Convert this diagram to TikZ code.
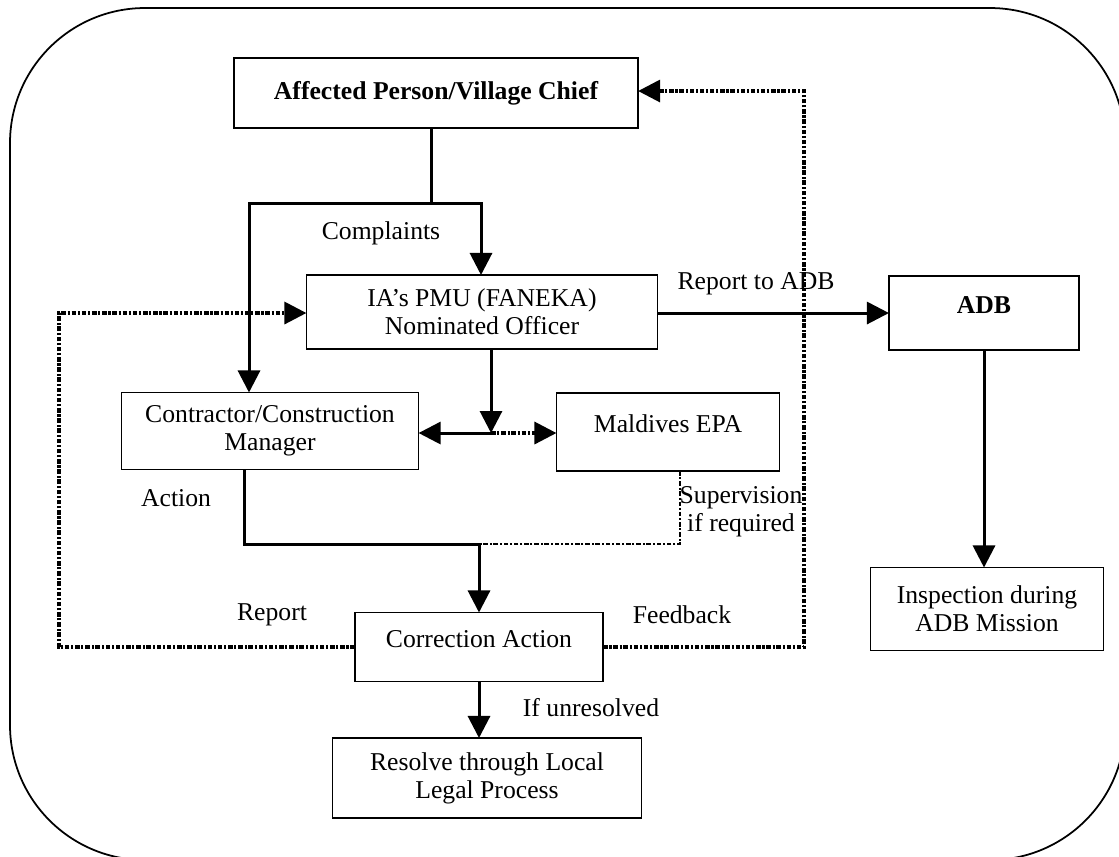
\documentclass[tikz,border=0pt]{standalone}
\usepackage{fontspec}
\setmainfont{Liberation Serif}
\usetikzlibrary{arrows.meta,positioning,calc}

\tikzset{
  box/.style={draw,line width=0.5pt,inner sep=0pt,outer sep=0pt,align=center},
  upbox/.style={box,text height=1ex,text depth=1ex},
  conn/.style={line width=0.85pt,-{Triangle[length=2.2mm,width=2.2mm]}},
  dotline/.style={line width=0.95pt,dash pattern=on 1.3pt off 0.5pt on 0.6pt off 0.5pt},
  lbl/.style={align=center}
}

\begin{document}
\begin{tikzpicture}[x=0.01cm,y=-0.01cm,font=\fontsize{7.3}{8}\selectfont]
\clip (0,0) rectangle (1119,856);
\draw[line width=0.5pt,rounded corners=1.35cm] (10,8) rectangle (1125,860);

% boxes
\node[box,minimum width=4.04cm,minimum height=0.70cm] (affected) at (436,93) {\bfseries Affected Person/Village Chief};
\node[box,minimum width=3.51cm,minimum height=0.74cm] (pmu) at (482,312) {IA's PMU (FANEKA)\\Nominated Officer};
\node[upbox,minimum width=1.90cm,minimum height=0.74cm] (adb) at (984,313) {\bfseries ADB};
\node[box,minimum width=2.97cm,minimum height=0.77cm] (contractor) at (270,431) {Contractor/Construction\\Manager};
\node[upbox,minimum width=2.23cm,minimum height=0.78cm] (epa) at (668,432) {Maldives EPA};
\node[upbox,minimum width=2.48cm,minimum height=0.69cm] (correction) at (479,647) {Correction Action};
\node[box,minimum width=3.09cm,minimum height=0.80cm] (resolve) at (487,778) {Resolve through Local\\Legal Process};
\node[box,minimum width=2.33cm,minimum height=0.83cm] (inspection) at (987,609) {Inspection during\\ADB Mission};

% labels
\node[lbl] (complaints) at (381,233) {Complaints};
\node[lbl] (reportadb) at (756,284) {Report to ADB};
\node[lbl] (action) at (176,498) {Action};
\node[lbl] (supervision) at (741,512) {Supervision\\if required};
\node[lbl] (report) at (272,615) {Report};
\node[lbl] (feedback) at (682,615) {Feedback};
\node[lbl] (unresolved) at (591,708) {If unresolved};

% junctions
\coordinate (stem) at (431,203);
\coordinate (cleft) at (249,203);
\coordinate (cright) at (481,203);
\coordinate (fork) at (491,433);
\coordinate (act) at (244,544);
\coordinate (sup) at (680,544);
\coordinate (merge) at (479,544);
\coordinate (rleft) at (59,647);
\coordinate (rtop) at (59,313);
\coordinate (fright) at (804,647);
\coordinate (ftop) at (804,91);

% complaints
\draw[line width=0.85pt] (affected.south -| stem) -- (stem);
\draw[conn,{Triangle[length=2.2mm,width=2.2mm]}-{Triangle[length=2.2mm,width=2.2mm]}] (contractor.north -| cleft) -- (cleft) -- (cright) -- (pmu.north -| cright);

% PMU to contractor and EPA
\draw[conn] (pmu.south -| fork) -- (fork);
\draw[conn] (fork) -- (contractor.east |- fork);
\draw[conn,dotline] (fork) -- (epa.west |- fork);

% report to ADB
\draw[conn] (pmu.east |- rtop) -- (adb.west |- rtop);
\draw[conn] (adb.south) -- (inspection.north -| adb.south);

% action and supervision
\draw[line width=0.85pt] (contractor.south -| act) -- (act) -- (merge);
\draw[dotline,line width=0.6pt] (epa.south -| sup) -- (sup) -- (merge);
\draw[conn] (merge) -- (correction.north);

% report and feedback loops
\draw[conn,dotline] (correction.west) -- (rleft) -- (rtop) -- (pmu.west |- rtop);
\draw[conn,dotline] (correction.east) -- (fright) -- (ftop) -- (affected.east |- ftop);

\draw[conn] (correction.south) -- (resolve.north -| correction.south);
\end{tikzpicture}
\end{document}
